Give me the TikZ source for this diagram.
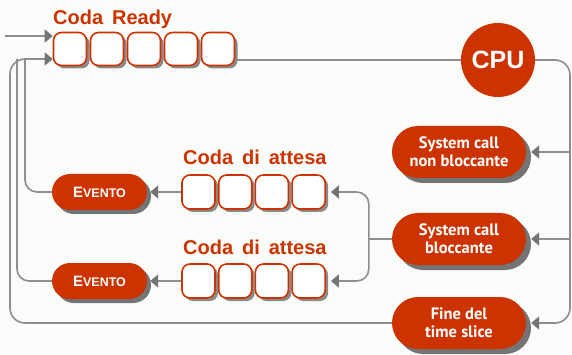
\documentclass[tikz,border=0pt]{standalone}
\usepackage{fontspec}
\setmainfont{Liberation Sans}
\newfontfamily\pillfont{PT Sans}
\newfontfamily\titlefont[WordSpace=1.6]{Liberation Sans}
\usetikzlibrary{arrows.meta,shadows,shapes.misc,backgrounds}
\definecolor{codared}{HTML}{CC3300}
\definecolor{wiregray}{HTML}{8E8E8E}
\definecolor{tipgray}{HTML}{747474}
\definecolor{shadegray}{HTML}{8A8A8A}
\definecolor{papercol}{HTML}{FAFCFA}

\newcommand{\eventoword}{{\fontsize{15}{15}\selectfont E}\fontsize{12.5}{13}\selectfont VENTO}

\tikzset{
  slot/.style={draw=codared, line width=1.6pt, fill=white, rounded corners=8pt,
    minimum width=33pt, minimum height=33pt, inner sep=0pt,
    drop shadow={shadow xshift=3pt, shadow yshift=-3pt, fill=shadegray, opacity=1}},
  qtitle/.style={text=codared, inner sep=0pt, font=\titlefont\bfseries\fontsize{20}{21}\selectfont},
  pill/.style={rounded rectangle, fill=codared, text=white, align=center,
    minimum width=138pt, minimum height=52pt, inner sep=2pt,
    font=\pillfont\bfseries\fontsize{16.5}{18}\selectfont,
    drop shadow={shadow xshift=5pt, shadow yshift=-5pt, fill=tipgray, opacity=1}},
  evento/.style={rounded rectangle, fill=codared, text=white,
    minimum width=95pt, minimum height=36pt, inner sep=0pt, font=\bfseries,
    drop shadow={shadow xshift=4pt, shadow yshift=-4pt, fill=tipgray, opacity=1}},
  cpu/.style={circle, fill=codared, text=white, minimum size=74pt, inner sep=0pt,
    font=\bfseries\fontsize{25}{25}\selectfont},
  wire/.style={draw=wiregray, line width=1.6pt},
  arrow/.style={-{Triangle[length=8pt,width=13pt,fill=tipgray,color=tipgray]}}
}

\begin{document}
\begin{tikzpicture}[x=1pt,y=-1pt]
  \useasboundingbox (0,0) rectangle (572,355);

  % coda ready e cpu
  \foreach \i in {1,...,5}
    \node[slot] (r\i) at ({70+37*(\i-1)},49) {};
  \node[qtitle,anchor=base west] (tready) at (53,25) {Coda Ready};
  \node[cpu] (cpu) at (498,60) {CPU};

  % code di attesa
  \foreach \i in {1,...,4} {
    \node[slot,minimum height=34pt] (wa\i) at ({198.5+36.7*(\i-1)},192) {};
    \node[slot,minimum height=34pt] (wb\i) at ({198.5+36.7*(\i-1)},281) {};
  }
  \node[qtitle,anchor=base west] (tattesaA) at (183,165) {Coda di attesa};
  \node[qtitle,anchor=base west] (tattesaB) at (183,254) {Coda di attesa};
  \node[evento] (evA) at (99.5,192) {\eventoword};
  \node[evento] (evB) at (99.5,281) {\eventoword};

  % cause di uscita dalla cpu
  \node[pill] (nonbl) at (459,152) {System call\\non bloccante};
  \node[pill] (bloc) at (459,239) {System call\\bloccante};
  \node[pill] (fine) at (459,323) {Fine del\\time slice};

  \coordinate (nuovo) at (5,36);
  \coordinate (rtop) at ([yshift=13pt]r1.west);
  \coordinate (rin) at ([yshift=-10pt]r1.west);
  \coordinate (railL) at (10,59);
  \coordinate (railM) at (17,59);
  \coordinate (railI) at (25,59);
  \coordinate (railR) at (570,323);
  \coordinate (fork) at ([xshift=-23pt]bloc.west);

  \begin{scope}[on background layer]
    \fill[papercol] (0,0) rectangle (572,355);
    \draw[wire,arrow] (nuovo) -- (rtop);
    \draw[wire,arrow,rounded corners=15pt] (fine.west) -| (railL) -- (rin);
    \draw[wire,rounded corners=12pt] (evB.west) -| (railM);
    \draw[wire,rounded corners=12pt] (evA.west) -| (railI);
    \draw[wire] (r5.east |- cpu.west) -- (cpu.west);
    \draw[wire,arrow,rounded corners=15pt,shorten >=5pt] (cpu.east) -| (railR) -- (fine.east);
    \draw[wire,arrow,shorten >=5pt] (railR |- nonbl.east) -- (nonbl.east);
    \draw[wire,arrow,shorten >=5pt] (railR |- bloc.east) -- (bloc.east);
    \draw[wire] (bloc.west) -- (fork);
    \draw[wire,arrow,rounded corners=12pt,shorten >=5pt] (fork) |- (wa4.east);
    \draw[wire,arrow,rounded corners=12pt,shorten >=5pt] (fork) |- (wb4.east);
    \draw[wire,arrow,shorten >=3pt] (wa1.west) -- (evA.east);
    \draw[wire,arrow,shorten >=3pt] (wb1.west) -- (evB.east);
  \end{scope}
\end{tikzpicture}
\end{document}
